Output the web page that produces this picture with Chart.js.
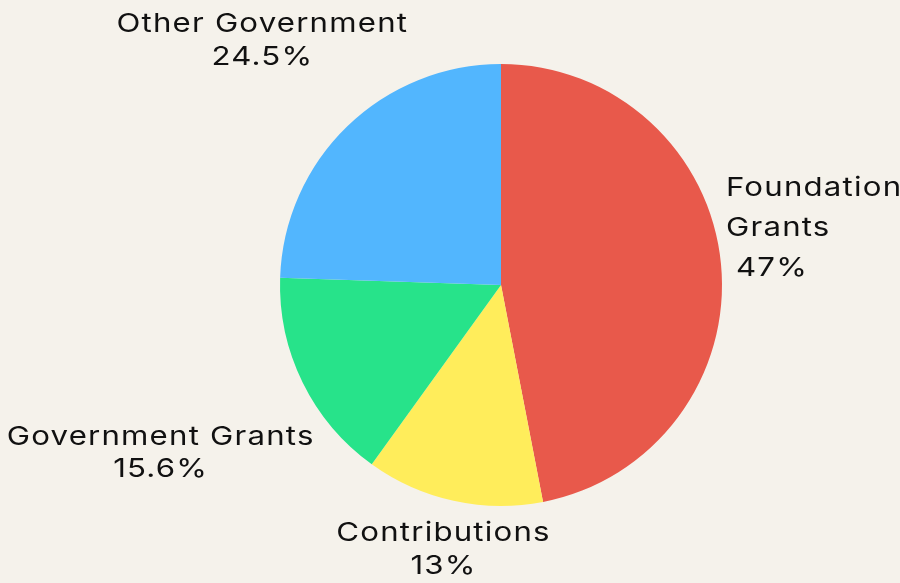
<!DOCTYPE html>
<html>
<head>
<meta charset="utf-8">
<script src="https://cdn.jsdelivr.net/npm/chart.js@4.4.1/dist/chart.umd.min.js"></script>
<style>
  html, body { margin: 0; padding: 0; background: #F5F2EB; }
  #wrap { width: 900px; height: 583px; }
</style>
</head>
<body>
<div id="wrap"><canvas id="pieChart"></canvas></div>
<script>
const categories = ['Foundation Grants', 'Contributions', 'Government Grants', 'Other Government'];
const shares = [47, 13, 15.6, 24.5];
const sliceColors = ['#E8594B', '#FFED5B', '#27E38A', '#52B6FE'];

// how each label is broken into lines, and where it sits relative to the slice edge
const labelLines = [
    ['Foundation', 'Grants', ' 47%'],
    ['Contributions', '13%'],
    ['Government Grants', '15.6%'],
    ['Other Government', '24.5%']
];
const labelPlace = [
    { dx: 5, dy: -76, lh: 40, align: 'left' },
    { dx: -10, dy: 32, lh: 33, align: 'center' },
    { dx: -142, dy: 55, lh: 32, align: 'center' },
    { dx: -85, dy: -102, lh: 33, align: 'center' }
];

const outsideLabels = {
    id: 'outsideLabels',
    afterDatasetsDraw(chart) {
        const ctx = chart.ctx;
        const arcs = chart.getDatasetMeta(0).data;
        ctx.save();
        ctx.fillStyle = '#111111';
        ctx.font = '26px Inter';
        ctx.letterSpacing = '1px';
        ctx.textBaseline = 'middle';
        arcs.forEach((arc, i) => {
            const mid = (arc.startAngle + arc.endAngle) / 2;
            const ex = arc.x + Math.cos(mid) * arc.outerRadius;
            const ey = arc.y + Math.sin(mid) * arc.outerRadius;
            const p = labelPlace[i];
            ctx.textAlign = p.align;
            labelLines[i].forEach((line, j) => {
                ctx.save();
                ctx.translate(ex + p.dx, ey + p.dy + j * p.lh);
                ctx.scale(1.2, 1); // the original face is a wide one
                ctx.fillText(line, 0, 0);
                ctx.restore();
            });
        });
        ctx.restore();
    }
};

new Chart(document.getElementById('pieChart'), {
    type: 'pie',
    data: {
        labels: categories,
        datasets: [{
            data: shares,
            backgroundColor: sliceColors,
            borderWidth: 0
        }]
    },
    options: {
        responsive: true,
        maintainAspectRatio: false,
        animation: false,
        layout: {
            padding: { top: 64, bottom: 77, left: 280, right: 178 }
        },
        plugins: {
            legend: { display: false },
            tooltip: { enabled: false }
        }
    },
    plugins: [outsideLabels]
});
</script>
</body>
</html>
